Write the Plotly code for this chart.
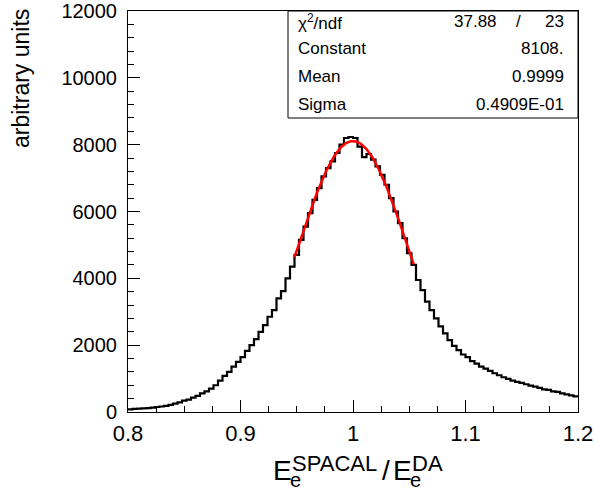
import numpy as np
import plotly.graph_objects as go

# Histogram: 100 bins from 0.8 to 1.2
x_min, x_max, n_bins = 0.8, 1.2, 100
counts = [
    80, 95, 100, 110, 115, 130, 150, 165, 185, 215,
    250, 290, 340, 370, 430, 480, 560, 620, 700, 800,
    940, 1080, 1200, 1360, 1500, 1640, 1830, 2000, 2180, 2400,
    2600, 2850, 3050, 3400, 3620, 4000, 4350, 4700, 5150, 5550,
    5950, 6350, 6700, 7050, 7300, 7500, 7750, 8000, 8200, 8230,
    8200, 7940, 7630, 7720, 7550, 7350, 7100, 6800, 6400, 6000,
    5650, 5200, 4750, 4400, 3950, 3650, 3300, 3050, 2800, 2560,
    2350, 2150, 1980, 1850, 1720, 1640, 1520, 1450, 1360, 1300,
    1230, 1160, 1100, 1040, 990, 940, 900, 870, 830, 790,
    760, 720, 680, 660, 620, 600, 560, 530, 500, 470,
]

# Gaussian fit parameters (from stats box)
fit_constant = 8108.0
fit_mean = 0.9999
fit_sigma = 0.04909
fit_range = (0.948, 1.054)
chi2, ndf = 37.88, 23

stat_labels = ["χ<sup>2</sup>/ndf", "Constant", "Mean", "Sigma"]
stat_values = ["", "8108.", "0.9999", "0.4909E-01"]

edges = np.linspace(x_min, x_max, n_bins + 1)
hx = list(edges)
hy = list(counts) + [counts[-1]]

fx = np.linspace(fit_range[0], fit_range[1], 200)
fy = fit_constant * np.exp(-0.5 * ((fx - fit_mean) / fit_sigma) ** 2)

FONT = "Liberation Sans, Arial, Helvetica, sans-serif"

fig = go.Figure()
fig.add_trace(go.Scatter(x=hx, y=hy, mode="lines", line=dict(shape="hv", color="black", width=2.2),
                         showlegend=False, hoverinfo="skip"))
fig.add_trace(go.Scatter(x=fx, y=fy, mode="lines", line=dict(color="#ff0000", width=2.5),
                         showlegend=False, hoverinfo="skip"))

W, H = 594, 493
L, R, T, B = 128, 16, 11, 81
pw, ph = W - L - R, H - T - B

def px2x(px):
    return (px - L) / pw

def py2y(py):
    return (H - B - py) / ph

fig.update_layout(
    width=W, height=H,
    margin=dict(l=L, r=R, t=T, b=B, pad=0, autoexpand=False),
    paper_bgcolor="white", plot_bgcolor="white",
    font=dict(family=FONT, color="black", size=20),
    xaxis=dict(range=[x_min, x_max], dtick=0.1, tick0=0.8, ticks="inside", ticklen=12, tickwidth=1,
               tickcolor="black", showline=True, linecolor="black", linewidth=1, mirror=True,
               showgrid=False, zeroline=False, tickfont=dict(size=22), ticklabelstandoff=2,
               automargin=False,
               minor=dict(dtick=0.025, ticks="inside", ticklen=6, tickcolor="black", tickwidth=1,
                          showgrid=False)),
    yaxis=dict(range=[0, 12000], dtick=2000, ticks="inside", ticklen=12, tickwidth=1,
               tickcolor="black", showline=True, linecolor="black", linewidth=1, mirror=True,
               showgrid=False, zeroline=False, tickfont=dict(size=20), ticklabelstandoff=6,
               tickformat="d", automargin=False,
               minor=dict(dtick=400, ticks="inside", ticklen=6, tickcolor="black", tickwidth=1,
                          showgrid=False)),
)

# Stats box
fig.add_shape(type="rect", xref="paper", yref="paper",
              x0=px2x(288), x1=px2x(578), y0=py2y(118), y1=py2y(11),
              line=dict(color="black", width=1), fillcolor="white", layer="above")

row_y = [22, 49, 77, 104]
SF = 17
for lab, val, ry in zip(stat_labels, stat_values, row_y):
    fig.add_annotation(xref="paper", yref="paper", x=px2x(296), y=py2y(ry), text=lab,
                       showarrow=False, xanchor="left", yanchor="middle", font=dict(size=SF))
    if val:
        fig.add_annotation(xref="paper", yref="paper", x=px2x(566), y=py2y(ry), text=val,
                           showarrow=False, xanchor="right", yanchor="middle", font=dict(size=SF))
fig.add_annotation(xref="paper", yref="paper", x=px2x(499), y=py2y(row_y[0]), text=f"{chi2:.2f}",
                   showarrow=False, xanchor="right", yanchor="middle", font=dict(size=SF))
fig.add_annotation(xref="paper", yref="paper", x=px2x(518), y=py2y(row_y[0]), text="/",
                   showarrow=False, xanchor="center", yanchor="middle", font=dict(size=SF))
fig.add_annotation(xref="paper", yref="paper", x=px2x(566), y=py2y(row_y[0]), text=f"{ndf}",
                   showarrow=False, xanchor="right", yanchor="middle", font=dict(size=SF))

# Y axis title
fig.add_annotation(xref="paper", yref="paper", x=px2x(21), y=py2y(79), text="arbitrary units",
                   textangle=-90, showarrow=False, xanchor="center", yanchor="middle",
                   font=dict(size=23))

# X axis title built from pieces (stacked sub/superscripts as in ROOT TLatex)
pieces = [
    ("E", 272, 470, 28),
    ("e", 289, 480, 20),
    ("SPACAL", 291, 464, 22),
    ("/", 381, 470, 28),
    ("E", 392, 470, 28),
    ("e", 409, 480, 20),
    ("DA", 411, 464, 22),
]
for txt, lx, cy, fs in pieces:
    fig.add_annotation(xref="paper", yref="paper", x=px2x(lx), y=py2y(cy), text=txt,
                       showarrow=False, xanchor="left", yanchor="middle", font=dict(size=fs),
                       borderpad=0)

fig.write_html("out.html")
